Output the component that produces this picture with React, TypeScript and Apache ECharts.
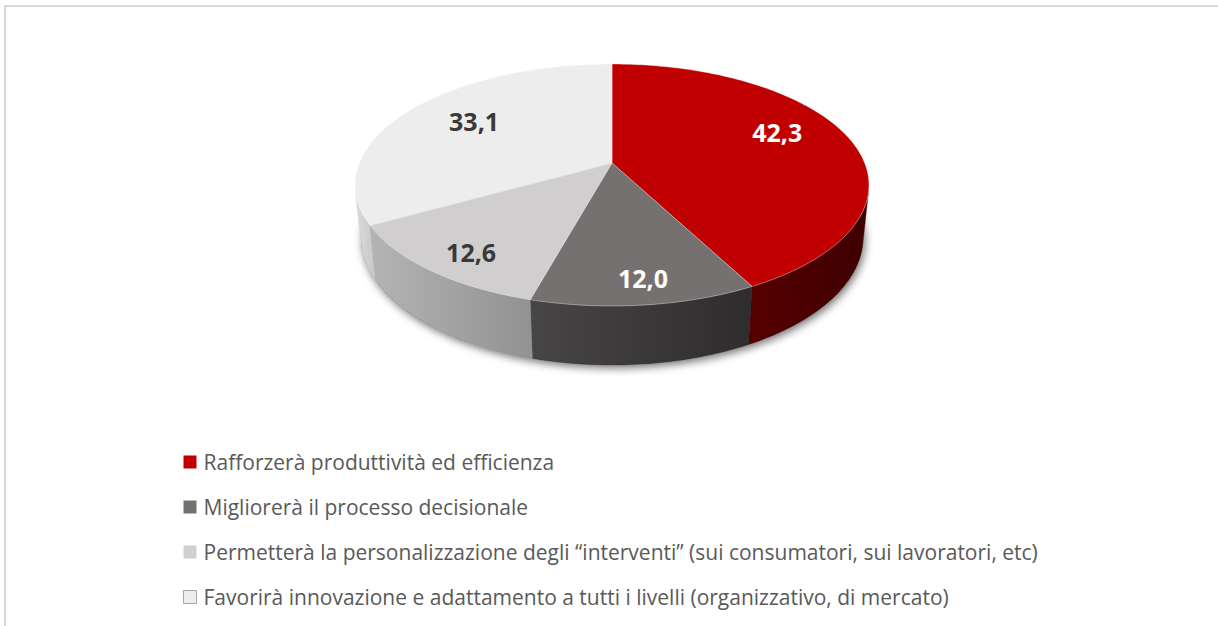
import { useEffect, useRef } from "react";
import * as echarts from "echarts";

// ---------- data ----------
const CATEGORIES = [
  "Rafforzerà produttività ed efficienza",
  "Migliorerà il processo decisionale",
  "Permetterà la personalizzazione degli “interventi” (sui consumatori, sui lavoratori, etc)",
  "Favorirà innovazione e adattamento a tutti i livelli (organizzativo, di mercato)",
];
const VALUES = [42.3, 12.0, 12.6, 33.1];

// ---------- styles ----------
const TOP_COLORS = ["#C00000", "#767171", "#D0CECE", "#EDEDED"];
const SIDE_COLORS = [
  ["#560000", "#3E0000"],
  ["#484546", "#2E2C2C"],
  ["#B4B4B4", "#929292"],
  ["#DCDCDC", "#C6C6C6"],
];
const LABEL_COLORS = ["#FFFFFF", "#FFFFFF", "#3B3838", "#3B3838"];
const LABEL_R = [0.74, 0.84, 0.83, 0.7];
const LABEL_SHIFT_DEG = [-8, -1, -2, 3];

// perspective camera for the tilted pie
const CX = 612;
const CY = 163;
const FOCAL = 1232;
const DIST = 4.876;
const SIN_A = 0.463;
const COS_A = 0.8865;
const DEPTH = 0.236;

function proj(X: number, D: number, Z: number): number[] {
  const zc = DIST + D * COS_A - Z * SIN_A;
  const xs = (FOCAL * X) / zc;
  const ys = (-FOCAL * (D * SIN_A + Z * COS_A)) / zc;
  return [CX + xs, CY + ys];
}

const TOTAL = VALUES.reduce((a, b) => a + b, 0);

function sliceAngles(i: number, v: number) {
  let cum = 0;
  for (let j = 0; j < i; j++) cum += VALUES[j];
  const a0 = (cum / TOTAL) * Math.PI * 2;
  const a1 = ((cum + v) / TOTAL) * Math.PI * 2;
  return [a0, a1];
}

function arc(a0: number, a1: number, z: number, r = 1): number[][] {
  const pts: number[][] = [];
  const n = Math.max(2, Math.ceil(((a1 - a0) * 180) / Math.PI));
  for (let k = 0; k <= n; k++) {
    const p = a0 + ((a1 - a0) * k) / n;
    pts.push(proj(r * Math.sin(p), r * Math.cos(p), z));
  }
  return pts;
}

const L = DIST * COS_A;
const VIS_LO = Math.PI - Math.acos(1 / L);
const VIS_HI = Math.PI + Math.acos(1 / L);

function makeRender(i: number) {
  return (_params: any, api: any) => {
    const v = api.value(0);
    const [a0, a1] = sliceAngles(i, v);
    const children: any[] = [];
    const s0 = Math.max(a0, VIS_LO);
    const s1 = Math.min(a1, VIS_HI);
    if (s1 > s0) {
      const topArc = arc(s0, s1, 0);
      const botArc = arc(s0, s1, -DEPTH).reverse();
      children.push({
        type: "polygon",
        shape: { points: topArc.concat(botArc) },
        style: {
          fill: new echarts.graphic.LinearGradient(0, 0, 1, 0, [
            { offset: 0, color: SIDE_COLORS[i][0] },
            { offset: 1, color: SIDE_COLORS[i][1] },
          ]),
          stroke: SIDE_COLORS[i][1],
          lineWidth: 0.3,
        },
      });
    }
    const top = [proj(0, 0, 0)].concat(arc(a0, a1, 0));
    children.push({
      type: "polygon",
      shape: { points: top },
      style: {
        fill: TOP_COLORS[i],
        stroke: "rgba(255,255,255,0.45)",
        lineWidth: 0.8,
      },
    });
    const pm = (a0 + a1) / 2 + (LABEL_SHIFT_DEG[i] * Math.PI) / 180;
    const lp = proj(LABEL_R[i] * Math.sin(pm), LABEL_R[i] * Math.cos(pm), 0);
    children.push({
      type: "text",
      x: lp[0],
      y: lp[1],
      z2: 10,
      style: {
        text: v.toFixed(1).replace(".", ","),
        fill: LABEL_COLORS[i],
        fontFamily: '"Open Sans", sans-serif',
        fontWeight: "bold",
        fontSize: 25,
        align: "center",
        verticalAlign: "middle",
      },
    });
    return { type: "group", children };
  };
}

function shadowRender() {
  const pts = arc(0, Math.PI * 2, -DEPTH);
  return {
    type: "polygon",
    shape: { points: pts },
    style: {
      fill: "#777777",
      shadowBlur: 9,
      shadowColor: "rgba(0,0,0,0.55)",
      shadowOffsetX: 2,
      shadowOffsetY: 3,
    },
  };
}

export default function App() {
  const ref = useRef<HTMLDivElement>(null);
  useEffect(() => {
    if (!ref.current) return;
    const chart = echarts.init(ref.current, undefined, { renderer: "svg" });
    const series: any[] = [
      {
        type: "custom",
        name: "shadow",
        coordinateSystem: "none",
        silent: true,
        z: 1,
        data: [[0]],
        renderItem: shadowRender,
      },
    ];
    CATEGORIES.forEach((name, i) => {
      series.push({
        type: "custom",
        name,
        coordinateSystem: "none",
        silent: true,
        z: 2,
        itemStyle: { color: TOP_COLORS[i] },
        data: [[VALUES[i]]],
        renderItem: makeRender(i),
      });
    });
    chart.setOption({
      animation: false,
      backgroundColor: "#FFFFFF",
      graphic: [
        {
          type: "rect",
          shape: { x: 5, y: 6, width: 1240, height: 650 },
          style: { fill: "none", stroke: "#D9D9D9", lineWidth: 2 },
          silent: true,
        },
      ],
      legend: {
        orient: "vertical",
        left: 178,
        top: 445,
        itemWidth: 13,
        itemHeight: 13,
        itemGap: 21,
        icon: "rect",
        selectedMode: false,
        data: CATEGORIES.map((name, i) =>
          i === 3
            ? { name, itemStyle: { color: TOP_COLORS[i], borderColor: "#A6A6A6", borderWidth: 1 } }
            : { name, itemStyle: { color: TOP_COLORS[i] } }
        ),
        textStyle: {
          fontFamily: '"Open Sans", sans-serif',
          fontSize: 21,
          lineHeight: 24,
          color: "#595959",
          padding: [0, 0, 0, 2],
        },
      },
      series,
    });
    return () => chart.dispose();
  }, []);
  return (
    <div
      ref={ref}
      style={{ position: "absolute", left: 0, top: 0, width: 1218, height: 626, background: "#fff" }}
    />
  );
}
